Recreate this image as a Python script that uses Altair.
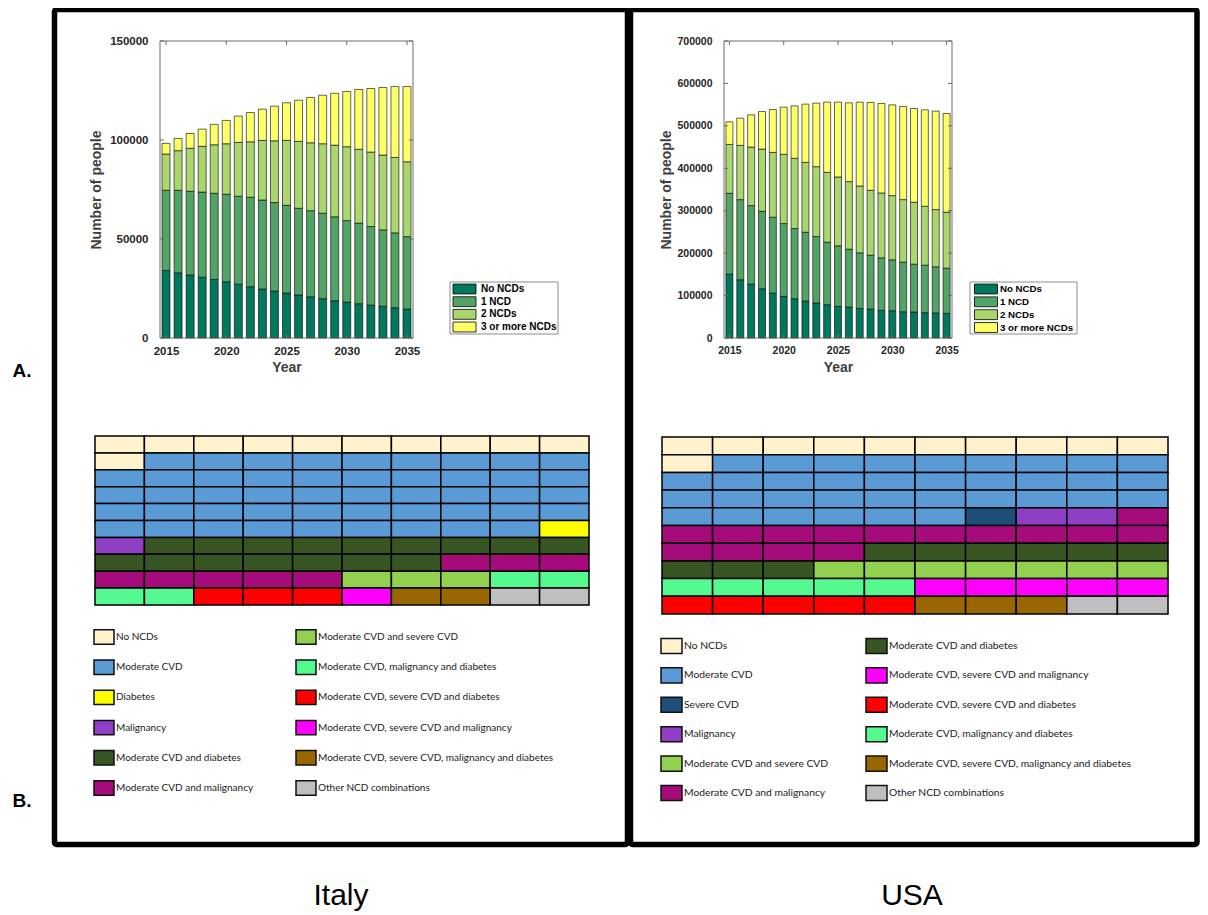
import altair as alt
import pandas as pd

W, H = 1192, 907
FONT = "Liberation Sans"
LFONT = "Lato"

# ---------------- bar chart data (A) ----------------
years = list(range(2015, 2036))
series = ["No NCDs", "1 NCD", "2 NCDs", "3 or more NCDs"]
series_colors = ["#00785e", "#52a466", "#a9d76d", "#ffff66"]

italy_no_ncd = [34100, 32900, 31800, 30700, 29600, 28400, 27200, 25900, 24700, 23700, 22700,
                21700, 20800, 19800, 18800, 18100, 17300, 16600, 16000, 15300, 14600]
italy_one_ncd = [40500, 41700, 42300, 43000, 43500, 44200, 44400, 45200, 45000, 44700, 44300,
                 43800, 43500, 43200, 42400, 41200, 40700, 39700, 38600, 37800, 36600]
italy_two_ncd = [18300, 20000, 21700, 23100, 24500, 25500, 27200, 28000, 30100, 31200, 32800,
                 33800, 34300, 35100, 36200, 37300, 37300, 37600, 37800, 38100, 37800]
italy_three_ncd = [5400, 6200, 7500, 8700, 10300, 11800, 13300, 14800, 15800, 17500, 19000,
                   20800, 22900, 24500, 26200, 27900, 30200, 32100, 34100, 35800, 38000]

usa_no_ncd = [150500, 137200, 127000, 116000, 105800, 98000, 92500, 87000, 82300, 78400, 74500,
              72900, 69800, 68200, 65100, 64300, 61800, 61200, 59600, 58800, 58000]
usa_one_ncd = [190500, 188900, 185000, 182700, 178800, 171700, 165400, 162300, 156800, 147400, 142700,
               136400, 130900, 127000, 123800, 119900, 117000, 112800, 112100, 109000, 106600]
usa_two_ncd = [115300, 127800, 138000, 146600, 152900, 163100, 165500, 164600, 164700, 164600, 162300,
               159200, 157600, 152900, 152900, 151400, 147300, 145900, 138800, 134800, 131800]
usa_three_ncd = [53300, 64300, 76100, 88600, 101100, 111300, 123800, 137300, 149700, 165500, 176400,
                 185800, 197600, 207000, 210900, 214000, 219600, 221100, 227300, 232100, 232800]

italy_y_ticks = [0, 50000, 100000, 150000]
usa_y_ticks = [0, 100000, 200000, 300000, 400000, 500000, 600000, 700000]
x_ticks = [2015, 2020, 2025, 2030, 2035]
x_limits = [2014.5, 2035.5]

# ---------------- waffle data (B) ----------------
cats = ["No NCDs", "Moderate CVD", "Severe CVD", "Diabetes", "Malignancy",
        "Moderate CVD and diabetes", "Moderate CVD and malignancy", "Moderate CVD and severe CVD",
        "Moderate CVD, malignancy and diabetes", "Moderate CVD, severe CVD and diabetes",
        "Moderate CVD, severe CVD and malignancy",
        "Moderate CVD, severe CVD, malignancy and diabetes", "Other NCD combinations"]
cat_colors = ["#fff2cc", "#5b9bd5", "#1f4e79", "#ffff00", "#8e3fc4",
              "#375623", "#a50b7b", "#92d050",
              "#54f98f", "#ff0000", "#ff00ff", "#996600", "#bfbfbf"]

italy_grid = [
    [0, 0, 0, 0, 0, 0, 0, 0, 0, 0],
    [0, 1, 1, 1, 1, 1, 1, 1, 1, 1],
    [1, 1, 1, 1, 1, 1, 1, 1, 1, 1],
    [1, 1, 1, 1, 1, 1, 1, 1, 1, 1],
    [1, 1, 1, 1, 1, 1, 1, 1, 1, 1],
    [1, 1, 1, 1, 1, 1, 1, 1, 1, 3],
    [4, 5, 5, 5, 5, 5, 5, 5, 5, 5],
    [5, 5, 5, 5, 5, 5, 5, 6, 6, 6],
    [6, 6, 6, 6, 6, 7, 7, 7, 8, 8],
    [8, 8, 9, 9, 9, 10, 11, 11, 12, 12],
]
usa_grid = [
    [0, 0, 0, 0, 0, 0, 0, 0, 0, 0],
    [0, 1, 1, 1, 1, 1, 1, 1, 1, 1],
    [1, 1, 1, 1, 1, 1, 1, 1, 1, 1],
    [1, 1, 1, 1, 1, 1, 1, 1, 1, 1],
    [1, 1, 1, 1, 1, 1, 2, 4, 4, 6],
    [6, 6, 6, 6, 6, 6, 6, 6, 6, 6],
    [6, 6, 6, 6, 5, 5, 5, 5, 5, 5],
    [5, 5, 5, 7, 7, 7, 7, 7, 7, 7],
    [8, 8, 8, 8, 8, 10, 10, 10, 10, 10],
    [9, 9, 9, 9, 9, 11, 11, 11, 12, 12],
]
italy_legend_left = [0, 1, 3, 4, 5, 6]
italy_legend_right = [7, 8, 9, 10, 11, 12]
usa_legend_left = [0, 1, 2, 4, 7, 6]
usa_legend_right = [5, 10, 9, 8, 11, 12]

one_row = pd.DataFrame({"k": [0]})
cat_scale = alt.Scale(domain=cats, range=cat_colors)
series_scale = alt.Scale(domain=series, range=series_colors)
AX_GREY = "#6b6b6b"


def bar_panel(no, one, two, three, ymax, yvals, xr, yr, bar_w, lab_size, y_extent, y_tpad):
    rows = []
    for i, (name, vals) in enumerate(zip(series, [no, one, two, three])):
        for yy, v in zip(years, vals):
            rows.append({"year": yy, "group": name, "people": v, "k": i})
    df = pd.DataFrame(rows)
    xs = alt.Scale(domain=x_limits, range=xr, nice=False, zero=False)
    ys = alt.Scale(domain=[0, ymax], range=yr, nice=False, zero=True)
    xaxis = alt.Axis(orient="bottom", offset=yr[0] - H, values=x_ticks, format="d", title="Year",
                     grid=False, domain=False, ticks=False, labelFlush=False, labelOverlap=False,
                     labelPadding=7, labelFont=FONT, labelFontSize=lab_size, labelFontWeight="bold",
                     labelColor="#262626", titleFont=FONT, titleFontSize=14, titleFontWeight="bold",
                     titleColor="#404040", titlePadding=3, minExtent=19, maxExtent=19)
    yaxis = alt.Axis(orient="left", offset=-xr[0], values=yvals, format="d", title="Number of people",
                     grid=False, domain=False, ticks=False, labelFlush=False, labelOverlap=False,
                     labelPadding=7, labelFont=FONT, labelFontSize=lab_size, labelFontWeight="bold",
                     labelColor="#262626", titleFont=FONT, titleFontSize=14, titleFontWeight="bold",
                     titleColor="#404040", titlePadding=y_tpad, minExtent=y_extent, maxExtent=y_extent)
    bars = alt.Chart(df).mark_bar(size=bar_w, stroke="black", strokeWidth=0.6).encode(
        x=alt.X("year:Q", scale=xs, axis=xaxis),
        y=alt.Y("people:Q", scale=ys, axis=yaxis, stack="zero"),
        color=alt.Color("group:N", scale=series_scale, legend=None),
        order=alt.Order("k:Q"),
    )
    box = alt.Chart(one_row).mark_rect(fillOpacity=0, stroke=AX_GREY, strokeWidth=1).encode(
        x=alt.XDatum(x_limits[0]), x2=alt.X2Datum(x_limits[1]), y=alt.YDatum(0), y2=alt.Y2Datum(ymax))
    # inward tick marks on all four sides (MATLAB "box on" style)
    ydf = pd.DataFrame({"v": yvals})
    xdf = pd.DataFrame({"v": x_ticks})
    tick_l = alt.Chart(ydf).mark_tick(orient="horizontal", size=4, thickness=1, color=AX_GREY,
                                      opacity=1, xOffset=2).encode(
        x=alt.XDatum(x_limits[0]), y=alt.Y("v:Q", axis=yaxis))
    tick_r = alt.Chart(ydf).mark_tick(orient="horizontal", size=4, thickness=1, color=AX_GREY,
                                      opacity=1, xOffset=-2).encode(
        x=alt.XDatum(x_limits[1]), y=alt.Y("v:Q", axis=yaxis))
    tick_b = alt.Chart(xdf).mark_tick(orient="vertical", size=4, thickness=1, color=AX_GREY,
                                      opacity=1, yOffset=-2).encode(
        x=alt.X("v:Q", axis=xaxis), y=alt.YDatum(0))
    tick_t = alt.Chart(xdf).mark_tick(orient="vertical", size=4, thickness=1, color=AX_GREY,
                                      opacity=1, yOffset=2).encode(
        x=alt.X("v:Q", axis=xaxis), y=alt.YDatum(ymax))
    return alt.layer(bars, box, tick_l, tick_r, tick_b, tick_t)


def bar_legend(bx, bx2, by, by2, sw_x, text_x, row_range, font_size):
    df = pd.DataFrame({"group": series, "k": list(range(4))})
    ys = alt.Scale(domain=[0, 3], range=row_range, nice=False, zero=False)
    box = alt.Chart(one_row).mark_rect(fill="white", stroke="#8c8c8c", strokeWidth=1).encode(
        x=alt.value(bx), x2=alt.value(bx2), y=alt.value(by), y2=alt.value(by2))
    sw = alt.Chart(df).mark_point(shape="M-1,-0.43H1V0.43H-1Z", size=529, filled=True, opacity=1,
                                  stroke="black", strokeWidth=0.8).encode(
        x=alt.value(sw_x), y=alt.Y("k:Q", scale=ys, axis=None),
        color=alt.Color("group:N", scale=series_scale, legend=None))
    tx = alt.Chart(df).mark_text(align="left", baseline="middle", font=FONT, fontWeight="bold",
                                 fontSize=font_size, color="black").encode(
        x=alt.value(text_x), y=alt.Y("k:Q", scale=ys, axis=None), text="group:N")
    return alt.layer(box, sw, tx)


def waffle(grid, xr, yr):
    rows = []
    for r, line in enumerate(grid):
        for c, code in enumerate(line):
            rows.append({"row": r, "col": c, "cat": cats[code]})
    df = pd.DataFrame(rows)
    xs = alt.Scale(domain=[0, 10], range=xr, nice=False, zero=False)
    ys = alt.Scale(domain=[0, 10], range=yr, nice=False, zero=False)
    return alt.Chart(df).transform_calculate(col2="datum.col + 1", row2="datum.row + 1").mark_rect(
        stroke="black", strokeWidth=1.5).encode(
        x=alt.X("col:Q", scale=xs, axis=None), x2="col2:Q",
        y=alt.Y("row:Q", scale=ys, axis=None), y2="row2:Q",
        color=alt.Color("cat:N", scale=cat_scale, legend=None))


def cat_legend(left, right, xr, yr, sw_size, dx, font_size):
    rows = []
    for c, lst in enumerate([left, right]):
        for r, code in enumerate(lst):
            rows.append({"col": c, "row": r, "cat": cats[code]})
    df = pd.DataFrame(rows)
    xs = alt.Scale(domain=[0, 1], range=xr, nice=False, zero=False)
    ys = alt.Scale(domain=[0, 5], range=yr, nice=False, zero=False)
    sw = alt.Chart(df).mark_point(shape="M-1,-0.72H1V0.72H-1Z", size=sw_size, filled=True, opacity=1,
                                  stroke="#111111", strokeWidth=1.5).encode(
        x=alt.X("col:Q", scale=xs, axis=None), y=alt.Y("row:Q", scale=ys, axis=None),
        color=alt.Color("cat:N", scale=cat_scale, legend=None))
    tx = alt.Chart(df).mark_text(align="left", baseline="middle", dx=dx, font=LFONT,
                                 fontSize=font_size, color="#1a1a1a").encode(
        x=alt.X("col:Q", scale=xs, axis=None), y=alt.Y("row:Q", scale=ys, axis=None), text="cat:N")
    return alt.layer(sw, tx)


def frame(x, x2, y, y2):
    return alt.Chart(one_row).mark_rect(fillOpacity=0, stroke="black", strokeWidth=5.5,
                                        cornerRadius=2).encode(
        x=alt.value(x), x2=alt.value(x2), y=alt.value(y), y2=alt.value(y2))


def note(text, x, y, size, weight, baseline="middle"):
    return alt.Chart(one_row).mark_text(text=text, font=FONT, fontSize=size, fontWeight=weight,
                                        align="center", baseline=baseline, color="black").encode(
        x=alt.value(x), y=alt.value(y))


layers = [
    frame(46.5, 619.5, 1.5, 836.5),
    frame(622.5, 1189, 1.5, 836.5),
    bar_panel(italy_no_ncd, italy_one_ncd, italy_two_ncd, italy_three_ncd, 150000, italy_y_ticks,
              [147, 410], [330, 33], 8, 11.5, 45, 7),
    bar_panel(usa_no_ncd, usa_one_ncd, usa_two_ncd, usa_three_ncd, 700000, usa_y_ticks,
              [711, 949], [330, 33], 7, 10.5, 40, 6),
    bar_legend(442, 550, 274, 326, 456.5, 473, [281, 319], 10),
    bar_legend(962, 1069, 274, 326, 978, 992, [281, 319.5], 9.7),
    waffle(italy_grid, [87, 581], [428, 597]),
    waffle(usa_grid, [654, 1160], [429, 606]),
    cat_legend(italy_legend_left, italy_legend_right, [96, 298], [629, 780], 400, 12, 10),
    cat_legend(usa_legend_left, usa_legend_right, [663.5, 868.5], [638, 785], 441, 12.5, 10.3),
    note("A.", 14, 363, 19, "bold"),
    note("B.", 14, 793, 19, "bold"),
    note("Italy", 333, 897, 30, "normal", "alphabetic"),
    note("USA", 904, 897, 30, "normal", "alphabetic"),
]

chart = alt.layer(*layers).resolve_scale(
    x="independent", y="independent", color="independent"
).resolve_axis(
    x="independent", y="independent"
).properties(
    width=W, height=H, padding=0, autosize=alt.AutoSizeParams(type="none")
).configure_view(stroke=None)

chart.save("out.html", embed_options={"renderer": "svg", "actions": False})
